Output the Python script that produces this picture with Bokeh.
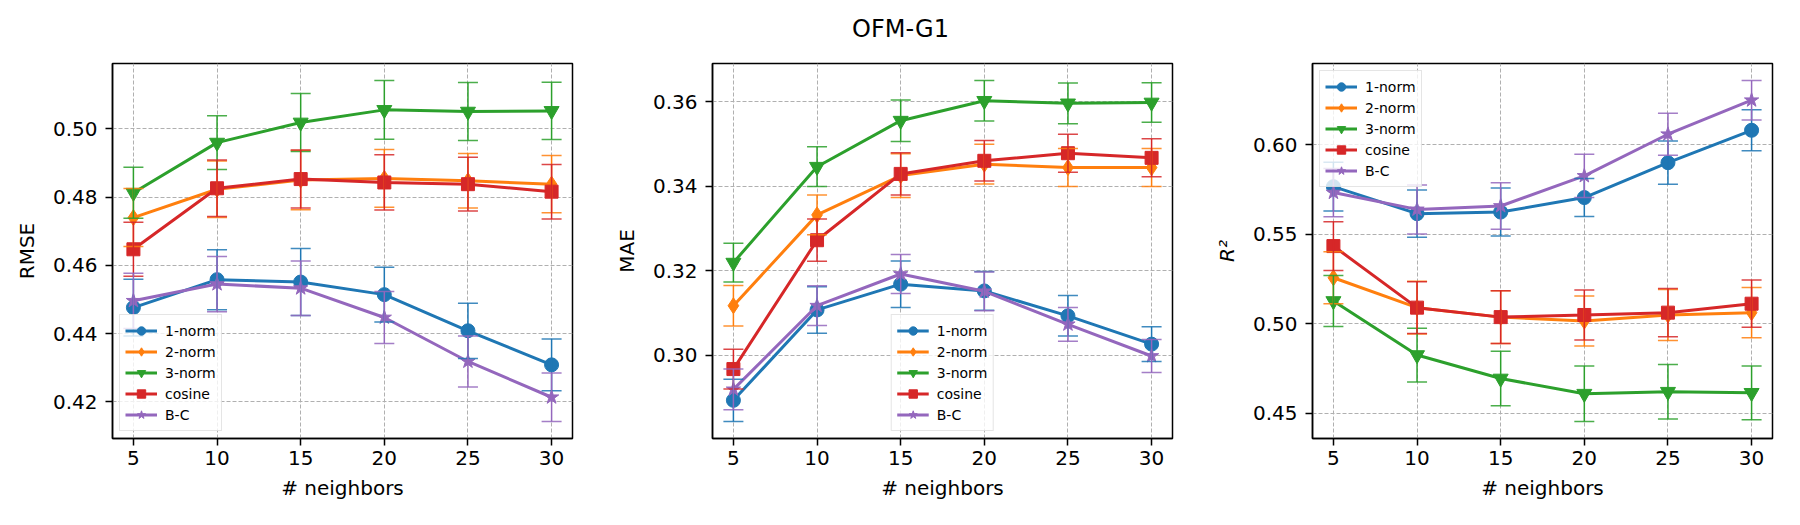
from bokeh.plotting import figure
from bokeh.layouts import column, row
from bokeh.models import Range1d, FixedTicker, ColumnDataSource, Whisker, TeeHead, NumeralTickFormatter
from bokeh.embed import file_html
from bokeh.resources import INLINE
from bokeh.core.properties import value

# ---------------- data ----------------
title_text = "OFM-G1"
neighbors = [5, 10, 15, 20, 25, 30]
series_names = ["1-norm", "2-norm", "3-norm", "cosine", "B-C"]
series_colors = ["#1f77b4", "#ff7f0e", "#2ca02c", "#d62728", "#9467bd"]
series_markers = ["circle", "diamond", "inverted_triangle", "square", "star"]
series_msizes = [14, 16, 15, 13, 15]

rmse_1norm = [0.4476, 0.4558, 0.4551, 0.4514, 0.4408, 0.4308]
rmse_2norm = [0.4740, 0.4823, 0.4850, 0.4855, 0.4848, 0.4838]
rmse_3norm = [0.4813, 0.4960, 0.5019, 0.5056, 0.5051, 0.5053]
rmse_cos = [0.4647, 0.4826, 0.4853, 0.4843, 0.4838, 0.4816]
rmse_bc = [0.4496, 0.4545, 0.4533, 0.4447, 0.4318, 0.4213]
rmse_1norm_err = [0.0083, 0.0088, 0.0098, 0.0080, 0.0081, 0.0076]
rmse_2norm_err = [0.0085, 0.0083, 0.0087, 0.0085, 0.0080, 0.0084]
rmse_3norm_err = [0.0075, 0.0079, 0.0085, 0.0086, 0.0085, 0.0084]
rmse_cos_err = [0.0079, 0.0083, 0.0085, 0.0081, 0.0079, 0.0080]
rmse_bc_err = [0.0081, 0.0081, 0.0080, 0.0076, 0.0075, 0.0071]

mae_1norm = [0.2893, 0.3107, 0.3168, 0.3152, 0.3093, 0.3026]
mae_2norm = [0.3117, 0.3332, 0.3425, 0.3452, 0.3444, 0.3444]
mae_3norm = [0.3219, 0.3446, 0.3555, 0.3602, 0.3596, 0.3598]
mae_cos = [0.2967, 0.3272, 0.3429, 0.3460, 0.3478, 0.3467]
mae_bc = [0.2919, 0.3117, 0.3192, 0.3151, 0.3073, 0.2998]
mae_1norm_err = [0.0050, 0.0055, 0.0055, 0.0046, 0.0048, 0.0041]
mae_2norm_err = [0.0048, 0.0047, 0.0052, 0.0047, 0.0045, 0.0045]
mae_3norm_err = [0.0046, 0.0047, 0.0049, 0.0048, 0.0048, 0.0047]
mae_cos_err = [0.0047, 0.0050, 0.0050, 0.0048, 0.0045, 0.0045]
mae_bc_err = [0.0048, 0.0047, 0.0046, 0.0046, 0.0040, 0.0039]

r2_1norm = [0.5767, 0.5616, 0.5625, 0.5706, 0.5901, 0.6082]
r2_2norm = [0.5258, 0.5091, 0.5038, 0.5016, 0.5050, 0.5063]
r2_3norm = [0.5128, 0.4826, 0.4695, 0.4610, 0.4621, 0.4615]
r2_cos = [0.5435, 0.5091, 0.5038, 0.5050, 0.5063, 0.5113]
r2_bc = [0.5734, 0.5640, 0.5659, 0.5827, 0.6060, 0.6250]
r2_1norm_err = [0.0136, 0.0132, 0.0134, 0.0106, 0.0121, 0.0115]
r2_2norm_err = [0.0145, 0.0148, 0.0147, 0.0140, 0.0142, 0.0140]
r2_3norm_err = [0.0143, 0.0150, 0.0152, 0.0155, 0.0152, 0.0150]
r2_cos_err = [0.0136, 0.0145, 0.0147, 0.0140, 0.0135, 0.0132]
r2_bc_err = [0.0135, 0.0137, 0.0130, 0.0121, 0.0117, 0.0110]

x_ticks = [5, 10, 15, 20, 25, 30]
rmse_ticks = [0.42, 0.44, 0.46, 0.48, 0.50]
mae_ticks = [0.30, 0.32, 0.34, 0.36]
r2_ticks = [0.45, 0.50, 0.55, 0.60]
x_label = "# neighbors"

FONT = "DejaVu Sans"
TITLE_H = 56


def make_panel(ylabel, vals, errs, yticks, legend_loc, italic=False):
    lo = min(v - e for vs, es in zip(vals, errs) for v, e in zip(vs, es))
    hi = max(v + e for vs, es in zip(vals, errs) for v, e in zip(vs, es))
    pad = 0.05 * (hi - lo)
    xpad = 0.05 * (max(neighbors) - min(neighbors))
    p = figure(width=600, height=525 - TITLE_H, output_backend="svg", toolbar_location=None,
               x_range=Range1d(min(neighbors) - xpad, max(neighbors) + xpad),
               y_range=Range1d(lo - pad, hi + pad),
               min_border_left=112, min_border_right=28, min_border_top=63 - TITLE_H,
               min_border_bottom=87)
    p.outline_line_color = "black"
    p.outline_line_width = 1.5
    p.background_fill_color = "white"
    p.border_fill_color = "white"
    for g in (p.xgrid, p.ygrid):
        g.grid_line_color = "#b0b0b0"
        g.grid_line_dash = "4 2"
        g.grid_line_width = 1
    p.xaxis.ticker = FixedTicker(ticks=x_ticks)
    p.yaxis.ticker = FixedTicker(ticks=yticks)
    p.yaxis.formatter = NumeralTickFormatter(format="0.00")
    for ax in (p.xaxis[0], p.yaxis[0]):
        ax.axis_line_color = "black"
        ax.axis_line_width = 1.5
        ax.major_tick_line_color = "black"
        ax.major_tick_line_width = 1.5
        ax.major_tick_in = 0
        ax.major_tick_out = 7
        ax.minor_tick_line_color = None
        ax.major_label_text_font = FONT
        ax.major_label_text_font_size = "20px"
        ax.major_label_text_color = "black"
        ax.axis_label_text_font = FONT
        ax.axis_label_text_font_size = "20px"
        ax.axis_label_text_color = "black"
        ax.axis_label_text_font_style = "normal"
    p.xaxis.axis_label = x_label
    p.xaxis.major_label_standoff = 5
    p.xaxis.axis_label_standoff = 8
    p.yaxis.axis_label = ylabel
    p.yaxis.major_label_standoff = 8
    p.yaxis.axis_label_standoff = 11
    if italic:
        p.yaxis.axis_label_text_font_style = "italic"

    for name, color, marker, ms, v, e in zip(series_names, series_colors, series_markers,
                                             series_msizes, vals, errs):
        src = ColumnDataSource(dict(x=neighbors, y=v,
                                    upper=[a + b for a, b in zip(v, e)],
                                    lower=[a - b for a, b in zip(v, e)]))
        wh = Whisker(base="x", upper="upper", lower="lower", source=src,
                     line_color=color, line_width=1.5, level="glyph",
                     upper_head=TeeHead(size=20, line_color=color, line_width=1.5, line_alpha=0.85),
                     lower_head=TeeHead(size=20, line_color=color, line_width=1.5, line_alpha=0.85))
        p.add_layout(wh)
        p.line("x", "y", source=src, line_color=color, line_width=3, legend_label=name)
        p.scatter("x", "y", source=src, marker=marker, size=ms, fill_color=color,
                  line_color=color, legend_label=name)

    lg = p.legend[0]
    lg.location = legend_loc
    lg.label_text_font = FONT
    lg.label_text_font_size = "14px"
    lg.label_text_color = "black"
    lg.glyph_width = 32
    lg.glyph_height = 21
    lg.label_height = 21
    lg.spacing = 0
    lg.padding = 5
    lg.margin = 7
    lg.label_standoff = 8
    lg.border_line_color = "#cccccc"
    lg.border_line_width = 1
    lg.background_fill_alpha = 0.8
    return p


p1 = make_panel("RMSE", [rmse_1norm, rmse_2norm, rmse_3norm, rmse_cos, rmse_bc],
                [rmse_1norm_err, rmse_2norm_err, rmse_3norm_err, rmse_cos_err, rmse_bc_err],
                rmse_ticks, "bottom_left")
p2 = make_panel("MAE", [mae_1norm, mae_2norm, mae_3norm, mae_cos, mae_bc],
                [mae_1norm_err, mae_2norm_err, mae_3norm_err, mae_cos_err, mae_bc_err],
                mae_ticks, "bottom_center")
p3 = make_panel("R²", [r2_1norm, r2_2norm, r2_3norm, r2_cos, r2_bc],
                [r2_1norm_err, r2_2norm_err, r2_3norm_err, r2_cos_err, r2_bc_err],
                r2_ticks, "top_left", italic=True)

tf = figure(width=1800, height=TITLE_H, output_backend="svg", toolbar_location=None,
            x_range=Range1d(0, 1), y_range=Range1d(0, TITLE_H), min_border=0,
            x_axis_location=None, y_axis_location=None)
tf.outline_line_color = None
tf.grid.visible = False
tf.text(x=[0.5], y=[TITLE_H - 28], text=[title_text], text_font=value(FONT), text_font_size="24px",
        text_align="center", text_baseline="alphabetic", text_color="black")

layout = column(tf, row(p1, p2, p3))
open("out.html", "w").write(file_html(layout, INLINE))
